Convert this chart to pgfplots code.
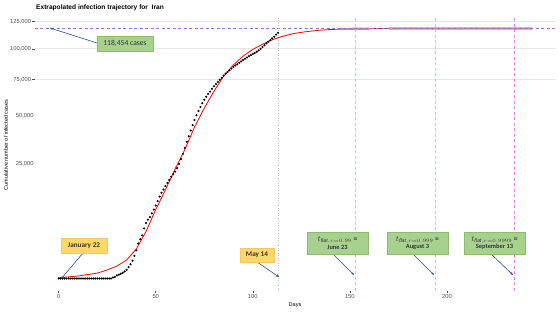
\documentclass[border=0pt]{standalone}
\usepackage{pgfplots}
\pgfplotsset{compat=1.18}
\usepackage{fontspec}
\setmainfont{Liberation Sans}
\newfontfamily\calibri{Carlito}
\usetikzlibrary{arrows.meta}
\definecolor{tickgray}{HTML}{4D4D4D}
\definecolor{gridgray}{HTML}{E6E6E6}
\definecolor{boxgreen}{HTML}{A9D18E}
\definecolor{boxgreenedge}{HTML}{8DBB6F}
\definecolor{boxyellow}{HTML}{FFD966}
\definecolor{boxyellowedge}{HTML}{F5C76A}
\definecolor{arrowblue}{HTML}{2F4B7C}
\definecolor{refblue}{HTML}{7B7BEE}
\definecolor{pinklight}{HTML}{F4A6F4}
\definecolor{pinkdark}{HTML}{E07FE0}
\definecolor{salmonred}{HTML}{F27A7A}
\definecolor{boxtext}{HTML}{333333}

\pgfplotstableread{
day cases
0 0
1 0
2 0
3 0
4 0
5 0
6 0
7 0
8 0
9 0
10 0
11 0
12 0
13 0
14 0
15 0
16 0
17 0
18 0
19 0
20 0
21 0
22 0
23 0
24 0
25 0
26 0
27 0
28 0.002
29 0.005
30 0.018
31 0.028
32 0.043
33 0.061
34 0.095
35 0.139
36 0.245
37 0.388
38 0.593
39 0.978
40 1.501
41 2.336
42 2.922
43 3.513
44 4.747
45 5.823
46 6.566
47 7.161
48 8.042
49 9.000
50 10.075
51 11.364
52 12.729
53 13.938
54 14.991
55 16.169
56 17.361
57 18.407
58 19.644
59 20.610
60 21.638
61 23.049
62 24.811
63 27.017
64 29.406
65 32.332
66 35.408
67 38.309
68 41.495
69 44.605
70 47.593
71 50.468
72 53.183
73 55.743
74 58.226
75 60.500
76 62.589
77 64.586
78 66.220
79 68.192
80 70.029
81 71.686
82 73.303
83 74.877
84 76.389
85 77.995
86 79.494
87 80.868
88 82.211
89 83.505
90 84.802
91 85.996
92 87.026
93 88.194
94 89.328
95 90.481
96 91.472
97 92.584
98 93.657
99 94.640
100 95.646
101 96.448
102 97.424
103 98.647
104 99.970
105 101.650
106 103.135
107 104.691
108 106.220
109 107.603
110 109.286
111 110.767
112 112.725
113 114.533
}\observed

\pgfplotstableread{
day fit
0 0.001
5 0.005
10 0.012
15 0.030
20 0.055
25 0.140
30 0.290
35 0.650
40 1.650
45 4.200
50 9.000
55 14.900
60 22.800
65 31.500
70 43.500
75 55.000
80 66.500
85 77.500
90 86.500
95 93.700
100 99.500
105 104.000
110 108.000
115 111.000
120 113.300
125 114.900
130 116.000
135 116.900
140 117.500
145 117.900
150 118.100
160 118.300
170 118.400
180 118.430
200 118.450
244 118.454
}\fitted

\pgfplotstableread{
day fit
145 117.950
150 118.100
160 118.300
}\flatA

\pgfplotstableread{
day fit
170 118.400
180 118.430
200 118.450
244 118.454
}\flatB

\begin{document}
\begin{tikzpicture}
\useasboundingbox (-35pt,-24pt) rectangle (525pt,291pt);
\begin{axis}[
  at={(0pt,0pt)}, anchor=south west,
  scale only axis, width=521pt, height=275pt,
  xmin=-12.2, xmax=256.2,
  ymin=-0.296, ymax=130.6,
  y coord trafo/.code={\pgfmathparse{(#1<0 ? -1 : 1)*sqrt(abs(#1))}},
  y coord inv trafo/.code={\pgfmathparse{(#1)*abs(#1)}},
  axis line style={draw=none},
  tick pos=left,
  tick align=outside,
  major tick length=2.5pt,
  tick style={tickgray, line width=0.5pt},
  xtick={0,50,100,150,200},
  ytick={75,100,125},
  yticklabels={{75,000},{100,000},{125,000}},
  extra y ticks={25,50},
  extra y tick labels={{25,000},{50,000}},
  extra y tick style={grid=none, major tick length=0pt},
  ymajorgrids,
  major grid style={gridgray, line width=0.6pt},
  ticklabel style={font=\fontsize{5.8}{6}\selectfont, text=tickgray},
  xticklabel style={inner sep=1pt},
  yticklabel style={inner sep=1.2pt},
  /pgf/number format/assume math mode=true,
]
\addplot[only marks, mark=*, mark size=0.85pt, black] table[x=day, y=cases] {\observed};
\addplot[red, line width=0.8pt] table[x=day, y=fit] {\fitted};
\addplot[salmonred, line width=2.2pt] table[x=day, y=fit] {\flatA};
\addplot[salmonred, line width=2.2pt] table[x=day, y=fit] {\flatB};
\addplot[refblue, line width=0.6pt, dash pattern=on 3pt off 2.5pt] coordinates {(-12.2,118.454) (256.2,118.454)};
\addplot[black!25, line width=0.5pt, dotted] coordinates {(113,-0.296) (113,130.6)};
\addplot[pinklight, line width=1pt, dash pattern=on 3pt off 2.5pt] coordinates {(153,-0.296) (153,130.6)};
\addplot[pinklight, line width=1pt, dash pattern=on 3pt off 2.5pt] coordinates {(194,-0.296) (194,130.6)};
\addplot[pinkdark, line width=0.9pt, dash pattern=on 3pt off 2.5pt] coordinates {(235,-0.296) (235,130.6)};
\end{axis}

% titles
\node[anchor=west, inner sep=0pt, font=\bfseries\fontsize{6.6}{7}\selectfont] at (1pt,283pt) {Extrapolated infection trajectory for\ \ Iran};
\node[rotate=90, inner sep=0pt, font=\fontsize{5.5}{6}\selectfont] at (-29pt,146pt) {Cumulative number of infected cases};
\node[inner sep=0pt, font=\fontsize{5.5}{6}\selectfont] at (260pt,-14pt) {Days};

% annotations
\tikzset{
  callarrow/.style={arrowblue, line width=0.6pt, -{Stealth[length=3.2pt,width=2.6pt]}},
  gbox/.style={fill=boxgreen, draw=boxgreenedge, line width=0.5pt, inner sep=1pt, align=center, text=boxtext},
  ybox/.style={fill=boxyellow, draw=boxyellowedge, line width=0.5pt, inner sep=1pt, align=center, text=boxtext},
}
\draw[callarrow] (62pt,248pt) -- (15pt,263pt);
\node[gbox, minimum width=56pt, minimum height=15pt, font=\calibri\fontsize{7.6}{8}\selectfont] at (90pt,247.5pt) {118,454 cases};

\draw[callarrow] (48pt,38pt) -- (26pt,12pt);
\node[ybox, minimum width=46pt, minimum height=15pt, font=\calibri\bfseries\fontsize{7.2}{8}\selectfont] at (49pt,45.5pt) {January 22};

\draw[callarrow] (222pt,29pt) -- (244pt,14pt);
\node[ybox, minimum width=34pt, minimum height=14pt, font=\calibri\bfseries\fontsize{7.2}{8}\selectfont] at (222pt,36pt) {May 14};

\draw[callarrow] (298pt,37pt) -- (319pt,16pt);
\node[gbox, minimum width=61pt, minimum height=22pt, font=\calibri\bfseries\fontsize{6.4}{7.8}\selectfont] at (302.5pt,48pt) {{\fontsize{7.6}{8}\selectfont$t_{\mathit{flat},r=0.99}$ =}\\June 23};

\draw[callarrow] (378pt,37pt) -- (399pt,16pt);
\node[gbox, minimum width=61pt, minimum height=22pt, font=\calibri\bfseries\fontsize{6.4}{7.8}\selectfont] at (382.5pt,48pt) {{\fontsize{7.6}{8}\selectfont$t_{\mathit{flat},r=0.999}$ =}\\August 3};

\draw[callarrow] (456pt,37pt) -- (478pt,16pt);
\node[gbox, minimum width=61pt, minimum height=22pt, font=\calibri\bfseries\fontsize{6.4}{7.8}\selectfont] at (459.5pt,48pt) {{\fontsize{7.6}{8}\selectfont$t_{\mathit{flat},r=0.9999}$ =}\\September 13};
\end{tikzpicture}
\end{document}
